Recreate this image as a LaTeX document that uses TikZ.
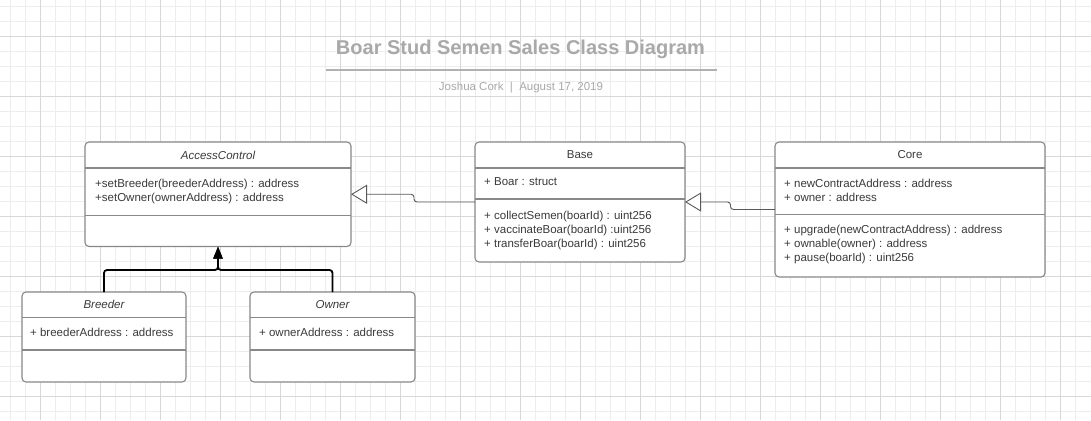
\documentclass[tikz,border=0pt]{standalone}
\usepackage{fontspec}
\setmainfont{Liberation Sans}
\usepackage{xcolor}
\usetikzlibrary{arrows.meta,positioning,calc}
\definecolor{gridminor}{HTML}{EDEDED}
\definecolor{gridmajor}{HTML}{D8D8D8}
\definecolor{boxline}{HTML}{888888}
\definecolor{txtgray}{HTML}{3A3A3A}
\definecolor{ttlgray}{HTML}{A9A9A9}
\newcommand{\clsfont}{\fontsize{11.5}{14}\selectfont}

\begin{document}
\begin{tikzpicture}[x=1pt, y=-1pt,
  font=\clsfont,
  cls/.style={rectangle, rounded corners=4pt, draw=boxline, line width=1.1pt, fill=white,
              anchor=north west, inner sep=0pt, outer sep=0pt},
  hdr/.style={inner sep=0pt, text=txtgray, font=\clsfont},
  abst/.style={hdr, font=\clsfont\itshape},
  mem/.style={anchor=north west, inner sep=0pt, align=left, text=txtgray, font=\clsfont},
  sep/.style={draw=boxline, line width=1.1pt},
  gen/.style={-{Triangle[open, length=16pt, width=19pt, fill=white]}, draw=black!65,
              line width=0.9pt, rounded corners=3pt},
  inh/.style={-{Triangle[length=12pt, width=9pt]}, black, line width=1.8pt, rounded corners=3pt}]
  % background grid
  \useasboundingbox (0,0) rectangle (1091,420);
  \fill[white] (0,0) rectangle (1091,420);
  \foreach \gx in {10.5,25.5,...,1090} \draw[gridminor, line width=0.9pt] (\gx,0) -- (\gx,420);
  \foreach \gy in {6,21,...,419} \draw[gridminor, line width=0.9pt] (0,\gy) -- (1091,\gy);
  \foreach \gx in {40.5,100.5,...,1090} \draw[gridmajor, line width=0.9pt] (\gx,0) -- (\gx,420);
  \foreach \gy in {36,96,...,419} \draw[gridmajor, line width=0.9pt] (0,\gy) -- (1091,\gy);
  % heading
  \node[inner sep=0pt, text=ttlgray, font=\bfseries\fontsize{20}{24}\selectfont] (title) at (520.5,49.5) {Boar Stud Semen Sales Class Diagram};
  \draw[ttlgray!90, line width=1.8pt] (326,70) -- (717,70);
  \node[inner sep=0pt, text=ttlgray, font=\clsfont] (byline) at (521,87.5) {Joshua Cork~~|~~August 17, 2019};
  % classes
  \node[cls, minimum width=266pt, minimum height=104.5pt] (ac) at (85,142) {};
  \node[cls, minimum width=210pt, minimum height=120pt, right=124pt of ac.north east, anchor=north west] (base) {};
  \node[cls, minimum width=270pt, minimum height=135pt, right=90pt of base.north east, anchor=north west] (core) {};
  \node[cls, minimum width=164pt, minimum height=90pt] (breeder) at (22,292) {};
  \node[cls, minimum width=165pt, minimum height=90pt] (owner) at (250,292) {};
  % compartments
  \draw[sep] ($(ac.north west)+(0,26)$) -- ($(ac.north east)+(0,26)$);
  \draw[sep] ($(ac.north west)+(0,73.5)$) -- ($(ac.north east)+(0,73.5)$);
  \draw[sep] ($(base.north west)+(0,26)$) -- ($(base.north east)+(0,26)$);
  \draw[sep] ($(base.north west)+(0,57)$) -- ($(base.north east)+(0,57)$);
  \draw[sep] ($(core.north west)+(0,26)$) -- ($(core.north east)+(0,26)$);
  \draw[sep] ($(core.north west)+(0,72.5)$) -- ($(core.north east)+(0,72.5)$);
  \draw[sep] ($(breeder.north west)+(0,25.5)$) -- ($(breeder.north east)+(0,25.5)$);
  \draw[sep] ($(breeder.north west)+(0,58)$) -- ($(breeder.north east)+(0,58)$);
  \draw[sep] ($(owner.north west)+(0,25.5)$) -- ($(owner.north east)+(0,25.5)$);
  \draw[sep] ($(owner.north west)+(0,58)$) -- ($(owner.north east)+(0,58)$);
  % names and members
  \node[abst] (acT) at ($(ac.north)+(0,13)$) {AccessControl};
  \node[mem] (acA) at ($(ac.north west)+(10,36.5)$) {+setBreeder(breederAddress) : address\\+setOwner(ownerAddress) : address};
  \node[hdr] (baseT) at ($(base.north)+(0,13)$) {Base};
  \node[mem] (baseA) at ($(base.north west)+(9,35.5)$) {+ Boar : struct};
  \node[mem] (baseO) at ($(base.north west)+(9,69.3)$) {+ collectSemen(boarId) : uint256\\+ vaccinateBoar(boarId) :uint256\\+ transferBoar(boarId) : uint256};
  \node[hdr] (coreT) at ($(core.north)+(0,13)$) {Core};
  \node[mem] (coreA) at ($(core.north west)+(9,36.5)$) {+ newContractAddress : address\\+ owner : address};
  \node[mem] (coreO) at ($(core.north west)+(9,83.3)$) {+ upgrade(newContractAddress) : address\\+ ownable(owner) : address\\+ pause(boarId) : uint256};
  \node[abst] (brT) at ($(breeder.north)+(0,12.5)$) {Breeder};
  \node[mem] (brA) at ($(breeder.north west)+(8,36.3)$) {+ breederAddress : address};
  \node[abst] (owT) at ($(owner.north)+(0,12.5)$) {Owner};
  \node[mem] (owA) at ($(owner.north west)+(9,36.3)$) {+ ownerAddress : address};
  % relations
  \draw[gen] (base.west) -- ++(-61,0) |- (ac.east);
  \draw[gen] (core.west) -- ++(-44.5,0) |- (base.east);
  \draw[inh] (breeder.north) -- ++(0,-22) -| (ac.south);
  \draw[inh] (owner.north) -- ++(0,-22) -| (ac.south);
\end{tikzpicture}
\end{document}
